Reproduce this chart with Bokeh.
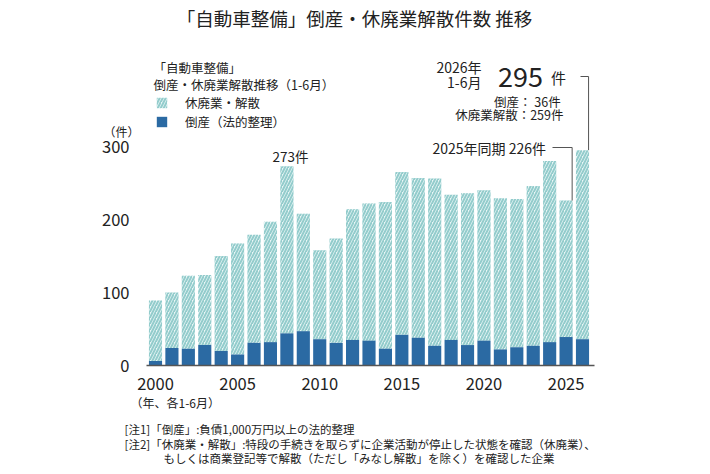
from bokeh.plotting import figure
from bokeh.models import Label, Legend, LegendItem, FixedTicker, Range1d
from bokeh.embed import file_html
from bokeh.resources import INLINE

years = list(range(2000, 2027))
totals = [89, 100, 123, 124, 150, 167, 179, 197, 273, 208, 158, 174, 214,
          222, 224, 265, 257, 256, 234, 236, 240, 229, 228, 246, 280, 226, 295]
bankrupt = [6, 24, 23, 28, 20, 15, 31, 32, 44, 47, 36, 31, 35,
            34, 23, 42, 38, 27, 35, 28, 34, 22, 25, 27, 32, 39, 36]
x_ticks = [2000, 2005, 2010, 2015, 2020, 2025]
y_ticks = [0, 100, 200, 300]

FONT = "Noto Sans CJK JP"
W, H = 694, 466
PXX = (582 - 155) / 26.0
PXY = (365 - 146) / 300.0


def X(px):
    return 2000 + (px - 155) / PXX


def Y(py):
    return (365 - py) / PXY


p = figure(width=W, height=H, output_backend="svg", toolbar_location=None,
           x_range=Range1d(X(0), X(W)), y_range=Range1d(Y(H), Y(0)),
           min_border_left=0, min_border_right=0,
           min_border_top=0, min_border_bottom=0)
p.outline_line_color = None
p.grid.visible = False
p.background_fill_color = "white"
p.border_fill_color = "white"

hatched = p.vbar(x=years, bottom=bankrupt, top=totals, width=0.8,
                 fill_color="#e9f6f6", line_color=None,
                 hatch_pattern="/", hatch_color="#93cccc", hatch_scale=6,
                 hatch_weight=2)
dark = p.vbar(x=years, bottom=0, top=bankrupt, width=0.8,
              fill_color="#2b6aa3", line_color=None)

# baseline
p.segment(x0=[X(146)], x1=[X(594)], y0=[0], y1=[0],
          line_color="#555555", line_width=1.5)

p.xaxis.ticker = FixedTicker(ticks=x_ticks)
p.yaxis.ticker = FixedTicker(ticks=y_ticks)
p.xaxis.fixed_location = 0
p.yaxis.fixed_location = X(145)
for ax in (p.xaxis, p.yaxis):
    ax.major_tick_line_color = None
    ax.minor_tick_line_color = None
    ax.axis_line_color = None
    ax.major_label_text_font = FONT
    ax.major_label_text_font_size = "16.5px"
    ax.major_label_text_color = "#222222"
p.yaxis.major_label_standoff = 10
p.xaxis.major_label_standoff = 6

legend = Legend(items=[LegendItem(label="休廃業・解散", renderers=[hatched]),
                       LegendItem(label="倒産（法的整理）", renderers=[dark])],
                location=(155, H - 131), glyph_width=13, glyph_height=13,
                label_height=13, spacing=0, label_standoff=17, padding=0,
                margin=0, border_line_alpha=0, background_fill_alpha=0,
                label_text_font=FONT, label_text_font_size="12.5px",
                label_text_color="#222222")
p.add_layout(legend)


def txt(px, py, s, size, align="left", color="#222222"):
    p.add_layout(Label(x=X(px), y=Y(py), text=s, text_font=FONT,
                       text_font_size=f"{size}px", text_align=align,
                       text_baseline="middle", text_color=color))


txt(354, 17, "「自動車整備」倒産・休廃業解散件数 推移", 18.5, "center")
txt(153, 67, "「自動車整備」", 12.5)
txt(153, 84, "倒産・休廃業解散推移（1-6月）", 12.5)
txt(121, 131, "（件）", 12, "center")
txt(290, 155, "273件", 13.5, "center")
txt(481, 66, "2026年", 14, "right")
txt(481, 81, "1-6月", 14, "right")
txt(520, 76, "295", 27, "center")
txt(558, 77, "件", 15, "center")
txt(563, 101, "倒産：  36件", 12.5, "right")
txt(563, 114, "休廃業解散：259件", 12.5, "right")
txt(432, 147, "2025年同期  226件", 14)
txt(130, 402, "（年、各1-6月）", 12)
txt(124, 428, "[注1]「倒産」:負債1,000万円以上の法的整理", 11.5)
txt(124, 443, "[注2]「休廃業・解散」:特段の手続きを取らずに企業活動が停止した状態を確認（休廃業）、", 11.5)
txt(163, 457, "もしくは商業登記等で解散（ただし「みなし解散」を除く）を確認した企業", 11.5)

# leader lines
p.line(x=[2026.37, 2026.37, X(580)], y=[totals[-1], Y(76), Y(76)],
       line_color="#555555", line_width=1)
p.line(x=[2025.37, 2025.37, X(552)], y=[totals[-2], Y(147), Y(147)],
       line_color="#555555", line_width=1)

open("out.html", "w").write(file_html(p, INLINE))
